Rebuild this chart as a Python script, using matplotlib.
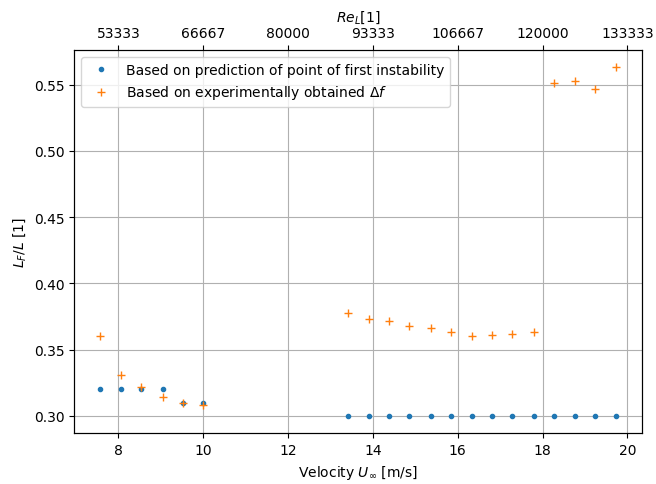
import matplotlib
matplotlib.use("Agg")
import matplotlib.pyplot as plt
import numpy as np

# Free-stream velocities [m/s]
velocity = [7.57, 8.07, 8.54, 9.05, 9.52, 10.0,
            13.41, 13.91, 14.38, 14.85, 15.36, 15.84, 16.34,
            16.81, 17.29, 17.79, 18.27, 18.77, 19.24, 19.74]

# L_F / L from the point of first instability
lf_instability = [0.32, 0.32, 0.32, 0.32, 0.31, 0.31,
                  0.30, 0.30, 0.30, 0.30, 0.30, 0.30, 0.30,
                  0.30, 0.30, 0.30, 0.30, 0.30, 0.30, 0.30]

# L_F / L from the measured frequency shift
lf_delta_f = [0.360, 0.331, 0.322, 0.314, 0.310, 0.308,
              0.378, 0.373, 0.3715, 0.368, 0.3665, 0.3635, 0.360,
              0.361, 0.3617, 0.363, 0.5515, 0.553, 0.547, 0.563]

# Reynolds number per unit velocity
re_per_velocity = 66666.67 / 10.0

fig, ax = plt.subplots(figsize=(6.56, 4.85), dpi=100)
fig.subplots_adjust(left=0.1133, right=0.979, bottom=0.1045, top=0.8948)

ax.plot(velocity, lf_instability, '.', color='tab:blue',
        label='Based on prediction of point of first instability')
ax.plot(velocity, lf_delta_f, '+', color='tab:orange',
        label=r'Based on experimentally obtained $\Delta f$')

ax.set_xlabel(r'Velocity $U_\infty$ [m/s]')
ax.set_ylabel(r'$L_F/L$ [1]')
ax.set_xticks([8, 10, 12, 14, 16, 18, 20])
ax.grid(True)
ax.legend(loc='upper left')

top = ax.twiny()
top.set_xlim(ax.get_xlim())
bottom_ticks = ax.get_xticks()
top.set_xticks(bottom_ticks)
top.set_xticklabels([f"{round(t * re_per_velocity)}" for t in bottom_ticks])
top.set_xlabel(r'$Re_L$[1]')

fig.savefig("out.png", dpi=100)
